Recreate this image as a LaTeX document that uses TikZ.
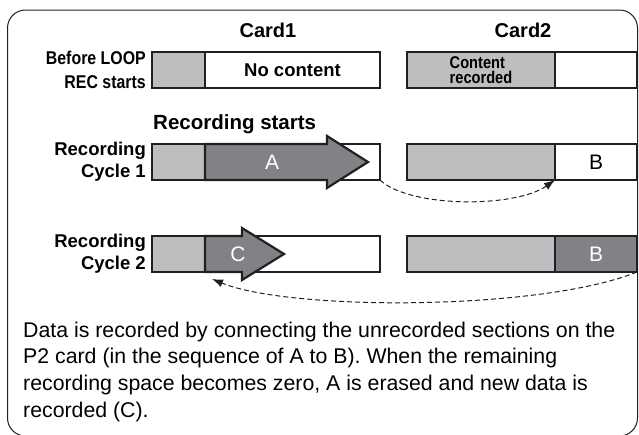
\documentclass[tikz,border=0pt]{standalone}
\usepackage{fontspec}
\setmainfont{Liberation Sans}
\newfontfamily\narrowfont[FakeStretch=0.86]{Liberation Sans}
\usetikzlibrary{arrows.meta, positioning}

\definecolor{cardgray}{HTML}{BCBEC0}
\definecolor{recgray}{HTML}{808285}
\definecolor{inkblack}{HTML}{231F20}

\tikzset{
    seg/.style={draw=inkblack, line width=2.2pt, minimum height=36pt, inner sep=0pt, outer sep=0pt},
    oldseg/.style={seg, fill=cardgray},
    freeseg/.style={seg, fill=white},
    fullseg/.style={seg, fill=recgray},
    rowlabel/.style={font=\bfseries\fontsize{18.5}{22}\selectfont, align=right, anchor=east, inner sep=0pt},
    cardtitle/.style={font=\bfseries\fontsize{20}{24}\selectfont},
    recarrow/.style={fill=recgray, draw=inkblack, line width=2.2pt, line join=miter},
    letter/.style={font=\fontsize{21}{24}\selectfont},
    jump/.style={dash pattern=on 5pt off 3pt, line width=1pt, draw=inkblack, -{Latex[length=11pt,width=8pt]}}
}

\begin{document}
\begin{tikzpicture}[x=1pt, y=-1pt]
    \useasboundingbox (0,0) rectangle (639,434);

    % frame
    \draw[inkblack, line width=1pt, rounded corners=18pt] (7.5,10) rectangle (637.5,436);

    % card titles
    \node[cardtitle] (card1) at (268,30) {Card1};
    \node[cardtitle] (card2) at (523,30) {Card2};

    % row 1: before loop rec
    \node[rowlabel, font=\narrowfont\bfseries\fontsize{18.5}{24.5}\selectfont] (lab1) at (146,70) {Before LOOP\\REC starts};
    \node[oldseg, minimum width=53pt, anchor=north west] (c1r1g) at (152,52) {};
    \node[freeseg, minimum width=175pt, right=0pt of c1r1g, font=\bfseries\fontsize{18.5}{22}\selectfont] (c1r1w) {No content};
    \node[oldseg, minimum width=148pt, anchor=north west, align=left, font=\narrowfont\bfseries\fontsize{17}{15.5}\selectfont] (c2r1g) at (407,52) {Content\\recorded};
    \node[freeseg, minimum width=82pt, right=0pt of c2r1g] (c2r1w) {};

    % row 2: cycle 1
    \node[font=\bfseries\fontsize{20.5}{24}\selectfont, anchor=base west, inner sep=0pt] (recstart) at (153,129) {Recording starts};
    \node[rowlabel] (lab2) at (146,162) {Recording\\Cycle 1};
    \node[oldseg, minimum width=53pt, anchor=north west] (c1r2g) at (152,144) {};
    \node[freeseg, minimum width=175pt, right=0pt of c1r2g] (c1r2w) {};
    \node[oldseg, minimum width=148pt, anchor=north west] (c2r2g) at (407,144) {};
    \node[freeseg, minimum width=82pt, right=0pt of c2r2g, letter] (c2r2w) {B};
    \filldraw[recarrow] (205,144) -- (327,144) -- (327,136) -- (368,162) -- (327,188) -- (327,180) -- (205,180) -- cycle;
    \node[letter, text=white] (recA) at (272,162) {A};

    % row 3: cycle 2
    \node[rowlabel] (lab3) at (146,254) {Recording\\Cycle 2};
    \node[oldseg, minimum width=53pt, anchor=north west] (c1r3g) at (152,236) {};
    \node[freeseg, minimum width=175pt, right=0pt of c1r3g] (c1r3w) {};
    \node[oldseg, minimum width=148pt, anchor=north west] (c2r3g) at (407,236) {};
    \node[fullseg, minimum width=82pt, right=0pt of c2r3g, letter, text=white] (c2r3w) {B};
    \filldraw[recarrow] (205,236) -- (242,236) -- (242,228) -- (284,254) -- (242,280) -- (242,272) -- (205,272) -- cycle;
    \node[letter, text=white] (recC) at (238,254) {C};

    % jumps between cards
    \coordinate (backend) at ([shift={(7,7)}]c1r3g.south east);
    \draw[jump] (c1r2w.south east) .. controls (410,208) and (515,208) .. (c2r2g.south east);
    \draw[jump] (c2r3w.south east) .. controls (540,311) and (290,311) .. (backend);

    % explanation
    \node[anchor=north west, inner sep=0pt, align=left, font=\fontsize{21.3}{26.7}\selectfont] (note) at (23,321.5)
        {Data is recorded by connecting the unrecorded sections on the\\P2 card (in the sequence of A to B). When the remaining\\recording space becomes zero, A is erased and new data is\\recorded (C).};

\end{tikzpicture}
\end{document}
